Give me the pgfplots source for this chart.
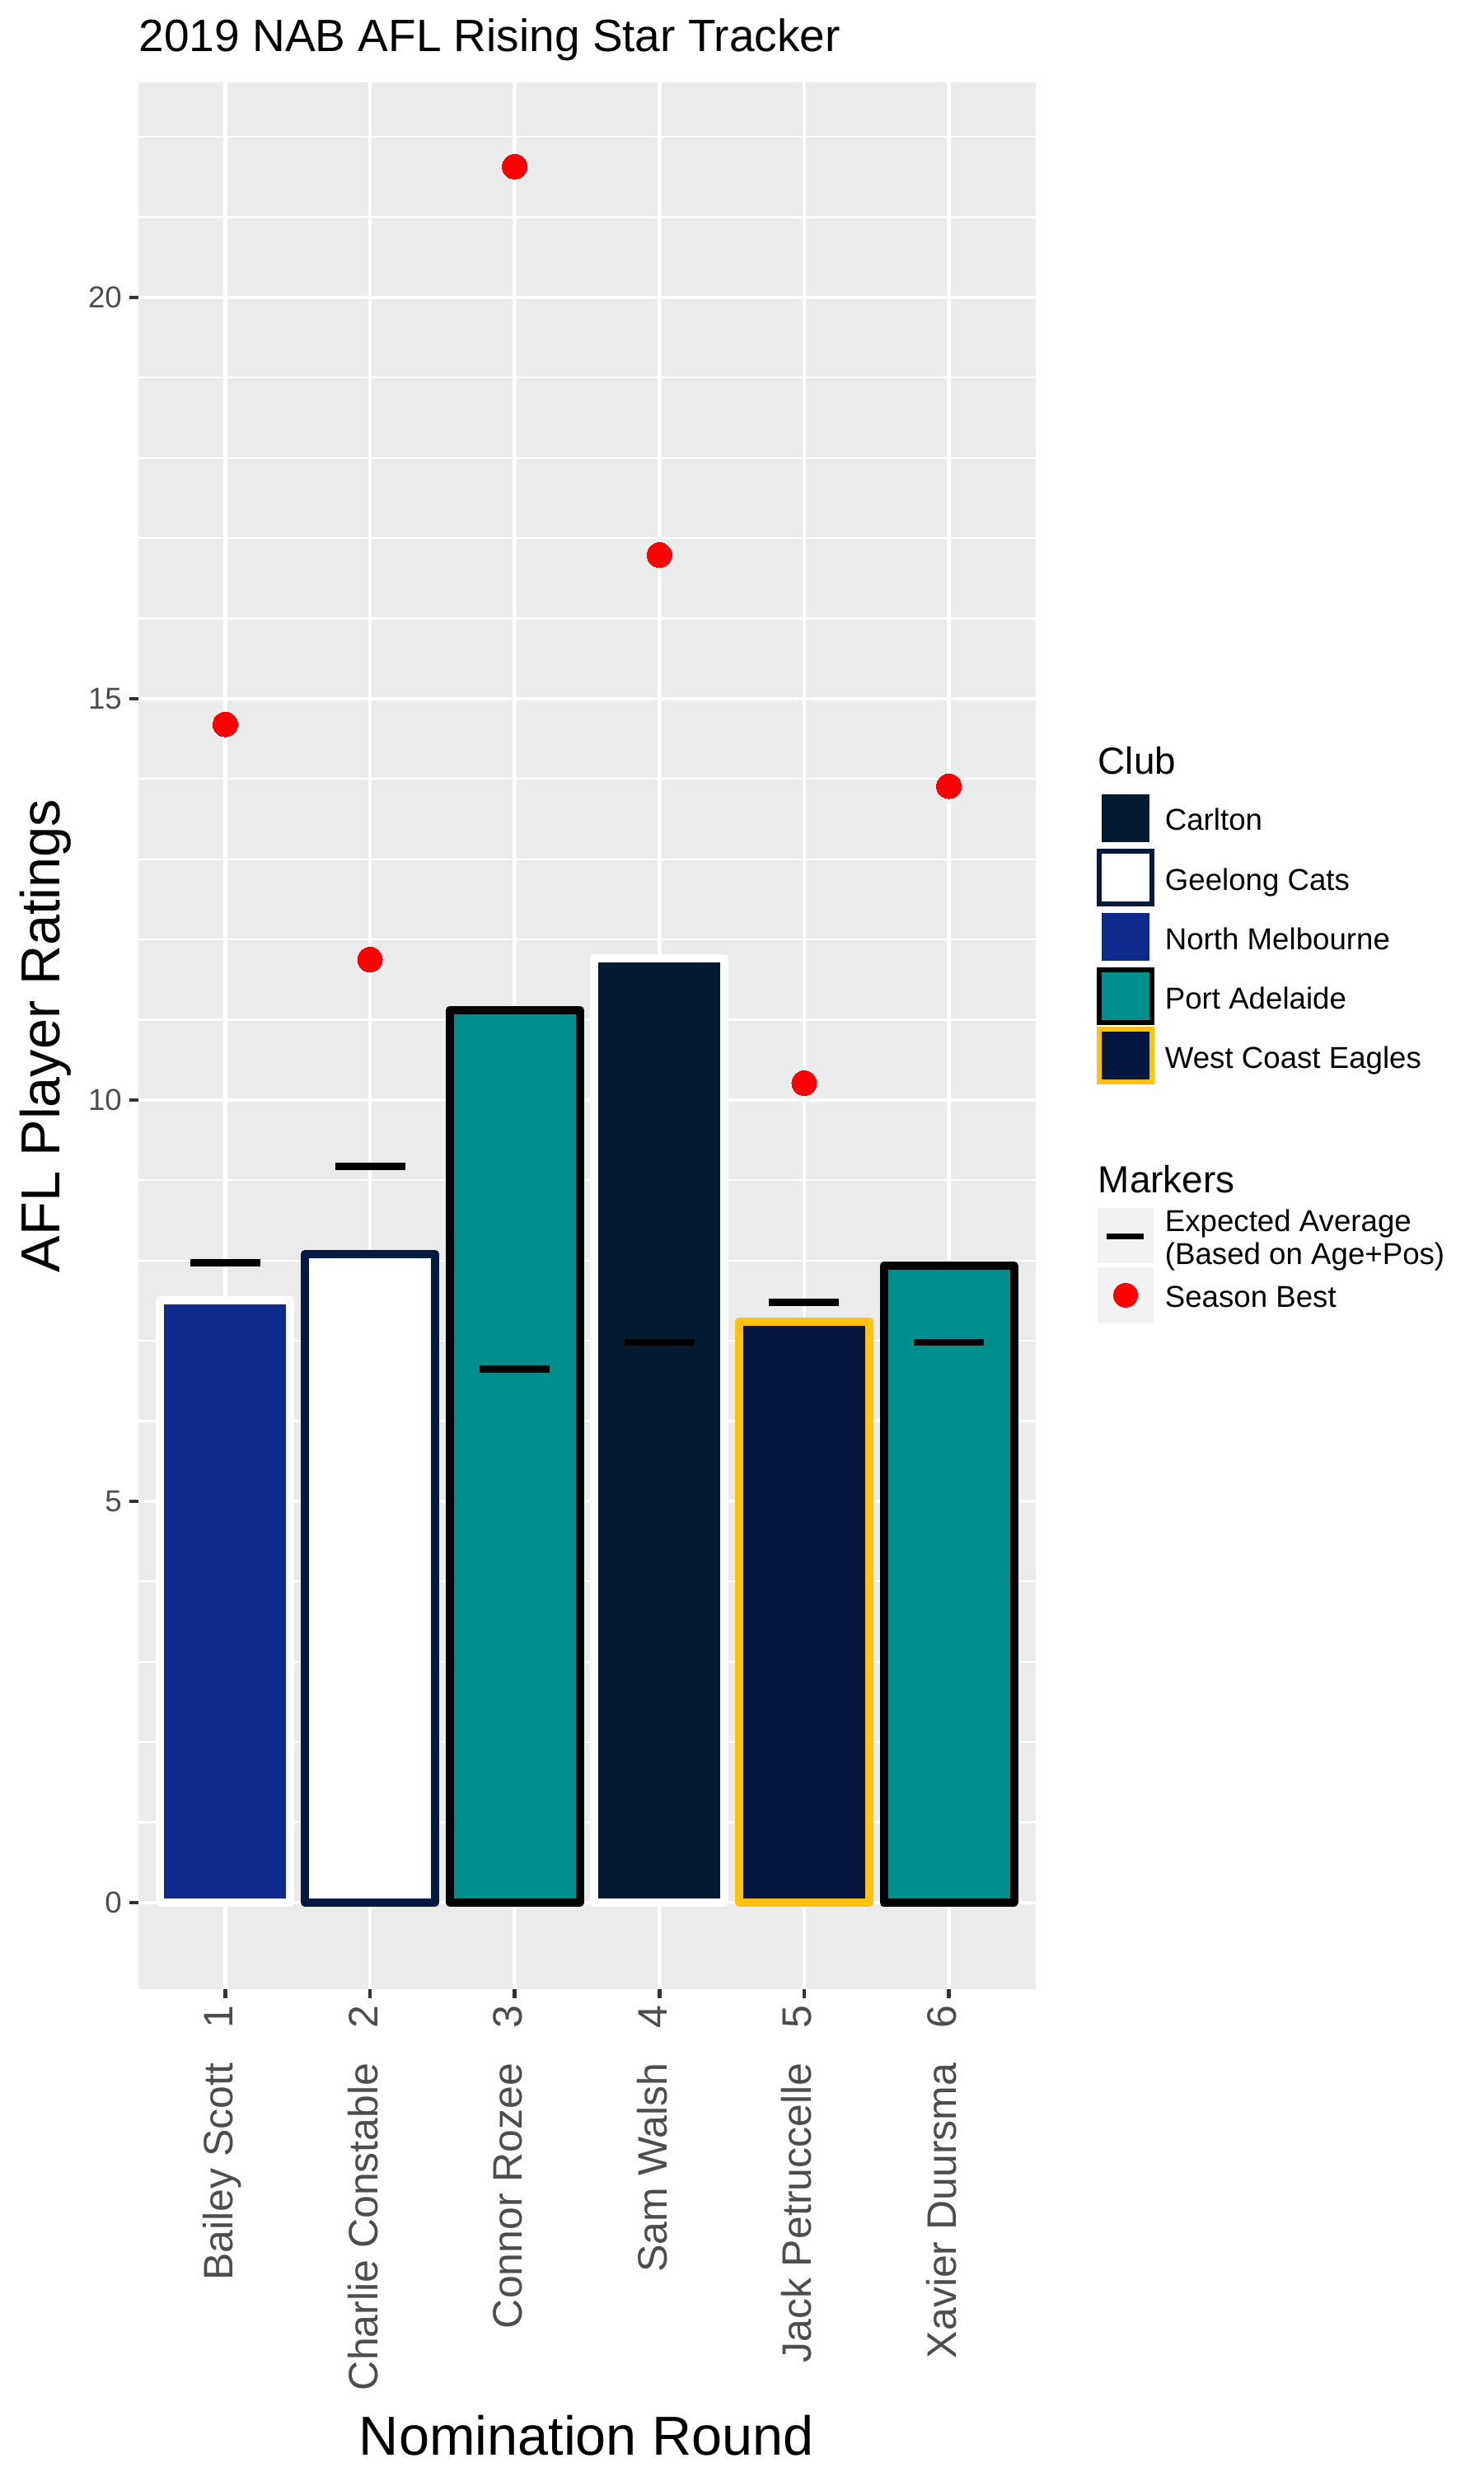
\documentclass[border=0pt]{standalone}
\usepackage{fontspec}
\setmainfont{Liberation Sans}
\usepackage{pgfplots}
\pgfplotsset{compat=1.18}
\definecolor{bgc}{HTML}{EBEBEB}
\definecolor{nmfc}{HTML}{0F2A8D}
\definecolor{carl}{HTML}{031A30}
\definecolor{wce}{HTML}{051740}
\definecolor{port}{HTML}{008E8F}
\definecolor{geel}{HTML}{061A40}
\definecolor{gold}{HTML}{FFC20E}
\definecolor{tickc}{HTML}{333333}
\definecolor{labc}{HTML}{4D4D4D}
\definecolor{keybg}{HTML}{F2F2F2}
\pgfplotsset{barst/.style={ybar, bar width=0.9, bar shift=0pt, line width=2.4pt, line join=round}}
\begin{document}
\begin{tikzpicture}
\path[use as bounding box] (0,0) rectangle (432pt,720pt);
\begin{axis}[
  at={(40.32pt,140.64pt)}, anchor=south west,
  width=261.36pt, height=555.36pt, scale only axis,
  xmin=0.4, xmax=6.6, ymin=-1.08, ymax=22.68,
  axis background/.style={fill=bgc},
  axis line style={draw=none},
  xtick={1,2,3,4,5,6},
  xticklabels={{Bailey Scott\hspace{0.84em}1},{Charlie Constable\hspace{0.84em}2},{Connor Rozee\hspace{0.84em}3},{Sam Walsh\hspace{0.84em}4},{Jack Petruccelle\hspace{0.84em}5},{Xavier Duursma\hspace{0.84em}6}},
  ytick={0,5,10,15,20},
  minor ytick={1,2,3,4,6,7,8,9,11,12,13,14,16,17,18,19,21,22},
  grid=both,
  major grid style={white, line width=1.07pt},
  minor grid style={white, line width=0.53pt},
  tick align=outside, tick pos=left,
  major tick length=2.64pt, minor tick length=0pt,
  tick style={draw=tickc, line width=1.07pt},
  /pgf/number format/assume math mode=true,
  yticklabel style={font=\fontsize{8.8}{10}\selectfont, text=labc, inner sep=0pt, xshift=-2.0pt},
  xticklabel style={rotate=90, anchor=east, font=\fontsize{12}{14}\selectfont, text=labc, inner ysep=0pt, inner xsep=1.92pt, text height=4.32pt, text depth=0pt},
]
\addplot[barst, fill=nmfc, draw=white] coordinates {(1,7.50)};
\addplot[barst, fill=white, draw=geel] coordinates {(2,8.08)};
\addplot[barst, fill=port, draw=black] coordinates {(3,11.12)};
\addplot[barst, fill=carl, draw=white] coordinates {(4,11.77)};
\addplot[barst, fill=wce, draw=gold] coordinates {(5,7.24)};
\addplot[barst, fill=port, draw=black] coordinates {(6,7.93)};
\addplot[only marks, mark=-, mark size=10.2pt, mark options={line width=2.1pt, draw=black}] coordinates {(1,7.97) (2,9.17) (3,6.65) (4,6.98) (5,7.48) (6,6.98)};
\addplot[only marks, color=red, mark=*, mark size=3.6pt, mark options={fill=red, draw=red, line width=0pt}] coordinates {(1,14.68) (2,11.75) (3,21.63) (4,16.79) (5,10.21) (6,13.91)};
\end{axis}
\begin{scope}[shift={(0,720pt)}, x=0.24pt, y=-0.24pt]
% titles
\node[anchor=base west, inner sep=0pt, font=\fontsize{13.2}{15}\selectfont] at (168,63) {2019 NAB AFL Rising Star Tracker};
\node[anchor=base, inner sep=0pt, rotate=90, font=\fontsize{16}{19}\selectfont] at (72,1257) {AFL Player Ratings};
\node[anchor=base, inner sep=0pt, font=\fontsize{16}{19}\selectfont] at (712,2979) {Nomination Round};
% Club legend
\node[anchor=base west, inner sep=0pt, font=\fontsize{11}{13}\selectfont] at (1332,940) {Club};
\draw[line width=1.44pt, draw=white, fill=carl] (1334,961) rectangle (1398,1025);
\draw[line width=1.44pt, draw=geel, fill=white] (1334,1033) rectangle (1398,1097);
\draw[line width=1.44pt, draw=white, fill=nmfc] (1334,1105) rectangle (1398,1169);
\draw[line width=1.44pt, draw=black, fill=port] (1334,1177) rectangle (1398,1241);
\draw[line width=1.44pt, draw=gold, fill=wce] (1334,1249) rectangle (1398,1313);
\begin{scope}[every node/.style={anchor=base west, inner sep=0pt, font=\fontsize{8.8}{10.5}\selectfont}]
\node at (1413,1008) {Carlton};
\node at (1413,1080) {Geelong Cats};
\node at (1413,1152) {North Melbourne};
\node at (1413,1224) {Port Adelaide};
\node at (1413,1296) {West Coast Eagles};
\node at (1413,1494) {Expected Average};
\node at (1413,1534) {(Based on Age+Pos)};
\node at (1413,1586) {Season Best};
\end{scope}
% Markers legend
\node[anchor=base west, inner sep=0pt, font=\fontsize{11}{13}\selectfont] at (1332,1447) {Markers};
\fill[keybg] (1332,1466) rectangle (1400,1533);
\fill[keybg] (1332,1538) rectangle (1400,1606);
\draw[line width=1.7pt, black] (1343,1500.5) -- (1388,1500.5);
\fill[red] (1366,1572) circle[radius=15];
\end{scope}
\end{tikzpicture}
\end{document}
